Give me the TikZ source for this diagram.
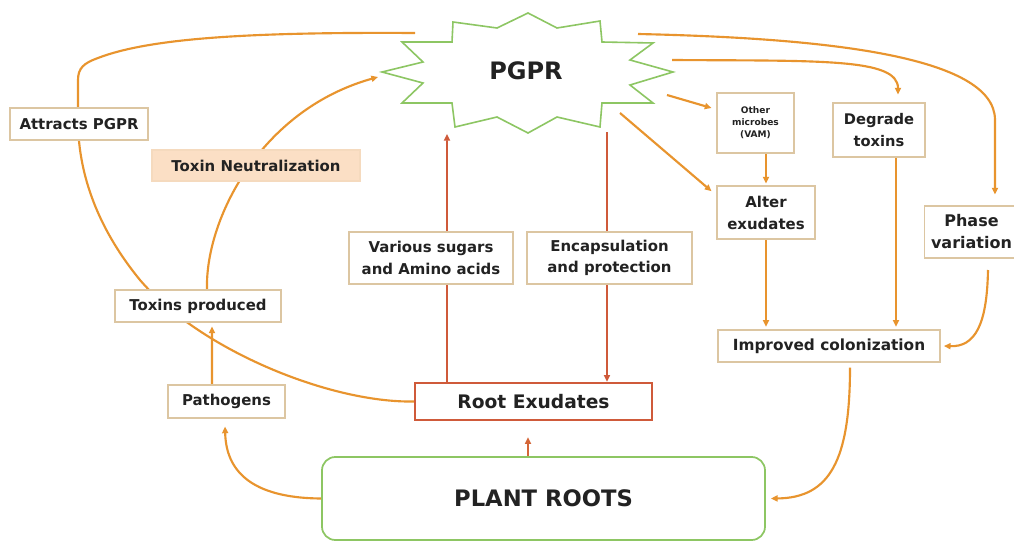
\documentclass[tikz,border=0pt]{standalone}
\usepackage{fontspec}
\setmainfont{DejaVu Sans}
\usetikzlibrary{arrows.meta}
\pgfdeclarelayer{background}
\pgfsetlayers{background,main}
\definecolor{org}{HTML}{E8942E}
\definecolor{rbr}{HTML}{CF5A3A}
\definecolor{grn}{HTML}{8DC663}
\definecolor{boxtan}{HTML}{DCC6A2}
\definecolor{peach}{HTML}{FBDFC5}
\definecolor{txt}{HTML}{222222}
\begin{document}
\begin{tikzpicture}[x=0.75pt,y=-0.75pt,
  lbl/.style={draw=boxtan, line width=0.8pt, fill=white, inner sep=0pt, align=center,
    font=\fontsize{11.2}{16}\selectfont\bfseries, text=txt},
  oarr/.style={draw=org, line width=1.6pt, -{Triangle[length=5pt,width=4.5pt]}},
  oline/.style={draw=org, line width=1.6pt},
  rarr/.style={draw=rbr, line width=1.4pt, -{Triangle[length=5pt,width=4.5pt]}},
]
\useasboundingbox (0,0) rectangle (1014,542);

% PGPR star
\draw[grn, line width=1.2pt, fill=white, line join=miter]
  (382,72) -- (423,62) -- (402,42) -- (452,42) -- (453,22) -- (497,28) -- (528,13)
  -- (557,28) -- (600,21) -- (602,42) -- (653,43) -- (630,60) -- (673,72)
  -- (630,85) -- (653,103) -- (602,103) -- (600,127) -- (557,117) -- (528,133)
  -- (497,117) -- (455,127) -- (452,103) -- (402,103) -- (423,83) -- cycle;
\node[font=\fontsize{18}{20}\selectfont\bfseries, text=txt] (pgpr) at (526,71) {PGPR};
\coordinate (s1) at (415,33);
\coordinate (s2) at (378,77);
\coordinate (s3) at (447,134);
\coordinate (s4) at (607,132);
\coordinate (s5) at (667,95);
\coordinate (s6) at (620,113);
\coordinate (s7) at (672,60);
\coordinate (s8) at (638,34);

% boxes
\node[lbl, minimum width=103.5pt, minimum height=24pt] (attr) at (79,124) {Attracts PGPR};
\node[lbl, fill=peach, draw=peach!80!boxtan, minimum width=156pt, minimum height=23.25pt] (tneut) at (256,165.5) {Toxin Neutralization};
\node[lbl, minimum width=124.5pt, minimum height=24pt] (tprod) at (198,306) {Toxins produced};
\node[lbl, minimum width=87.75pt, minimum height=24.75pt] (path) at (226.5,401.5) {Pathogens};
\node[lbl, minimum width=123pt, minimum height=39pt] (sug) at (431,258) {Various sugars\\and Amino acids};
\node[lbl, minimum width=123.75pt, minimum height=39pt] (enc) at (609.5,258) {Encapsulation\\and protection};
\node[lbl, draw=rbr, line width=1.8pt, font=\fontsize{14}{16}\selectfont\bfseries, minimum width=177.75pt, minimum height=27.75pt] (re) at (533.5,401.5) {Root Exudates};
\node[lbl, draw=grn, line width=1.3pt, rounded corners=10pt, font=\fontsize{17}{19}\selectfont\bfseries, minimum width=332.25pt, minimum height=62.25pt] (plant) at (543.5,498.5) {PLANT ROOTS};
\node[lbl, font=\fontsize{6.8}{9}\selectfont\bfseries, minimum width=57.75pt, minimum height=45pt] (vam) at (755.5,123) {Other\\microbes\\(VAM)};
\node[lbl, font=\fontsize{11}{16.5}\selectfont\bfseries, minimum width=69pt, minimum height=40.5pt] (degr) at (879,130) {Degrade\\toxins};
\node[lbl, font=\fontsize{11.2}{16.5}\selectfont\bfseries, minimum width=73.5pt, minimum height=39.75pt] (alter) at (766,212.5) {Alter\\exudates};
\node[lbl, font=\fontsize{12}{16.5}\selectfont\bfseries, minimum width=70pt, minimum height=39pt] (phase) at (971.5,232) {Phase\\variation};
\node[lbl, font=\fontsize{11.5}{16}\selectfont\bfseries, minimum width=166.5pt, minimum height=24pt] (impr) at (829,346) {Improved colonization};

\coordinate (d1) at ([xshift=12.75pt]degr.south);
\coordinate (p1) at (988,270);

\begin{pgfonlayer}{background}
\fill[white] (0,0) rectangle (1014,542);
% big left curve
\draw[oline] (re.west) .. controls (330,403) and (200,350) .. (140,280)
  .. controls (95,225) and (78,170) .. (78,120) -- (78,80)
  .. controls (78,68) and (84,63) .. (98,58)
  .. controls (150,38) and (250,32) .. (s1);
% toxins -> neutralization -> PGPR
\draw[oarr] ([xshift=6.75pt]tprod.north) .. controls (205,220) and (260,110) .. (s2);
% pathogens -> toxins
\draw[oarr] ([xshift=-10.9pt]path.north) -- ([xshift=10.5pt,yshift=-3pt]tprod.south);
% plant -> pathogens
\draw[oarr] (plant.west) .. controls (250,498) and (226,470) .. ([xshift=-1.1pt,yshift=-6pt]path.south);
% plant -> root exudates
\draw[rarr, draw=rbr!80!org] ([xshift=-11.6pt]plant.north) -- ([xshift=-4.1pt,yshift=-12pt]re.south);
% root exudates <-> PGPR
\draw[rarr] ([xshift=-64.9pt]re.north) -- (s3);
\draw[rarr] (s4) -- ([xshift=55.1pt]re.north);
% PGPR -> right side
\draw[oarr] (s5) -- ([xshift=-3.75pt,yshift=11.25pt]vam.west);
\draw[oarr] (s6) -- ([xshift=-3.75pt,yshift=16pt]alter.west);
\draw[oarr] (vam.south -| alter.north) -- ([yshift=1.5pt]alter.north);
\draw[oarr] (s7) .. controls (820,61) and (898,58) .. ([xshift=14.25pt,yshift=6pt]degr.north);
\draw[oarr] (s8) .. controls (820,38) and (995,55) .. (995,120) -- ([xshift=17.6pt,yshift=8.25pt]phase.north);
% to improved colonization
\draw[oarr, shorten >=2pt] (alter.south) -- (alter.south |- impr.north);
\draw[oarr, shorten >=2pt] (d1) -- (d1 |- impr.north);
\draw[oarr] (p1) .. controls (987,325) and (975,347) .. ([xshift=2.5pt]impr.east);
% improved -> plant
\draw[oarr] ([xshift=15.75pt,yshift=-3.75pt]impr.south) .. controls (850,460) and (830,498) .. ([xshift=3.75pt]plant.east);
\end{pgfonlayer}
\end{tikzpicture}
\end{document}
